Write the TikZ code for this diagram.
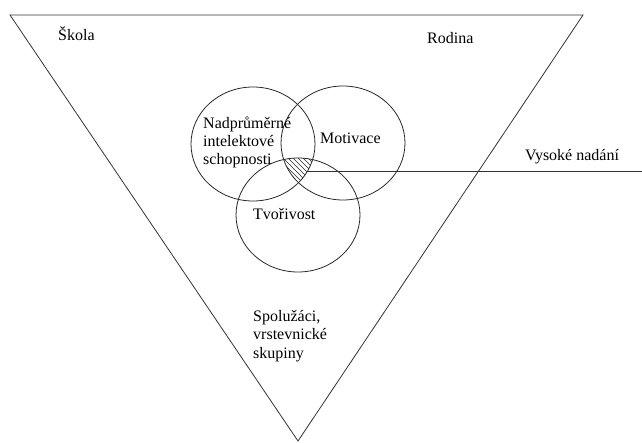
\documentclass[tikz,border=0pt]{standalone}
\usepackage{fontspec}
\setmainfont{Liberation Serif}
\begin{document}
\begin{tikzpicture}[x=1pt,y=-1pt,
  edge/.style={draw=black!80,line width=0.8pt},
  ring/.style={draw=black!85,line width=0.8pt},
  lbl/.style={inner sep=0pt,anchor=base west,align=left,font=\fontsize{16}{18.2}\selectfont}]
\useasboundingbox (0,0) rectangle (642,442);
% triangle
\coordinate (tl) at (10,15);
\coordinate (tr) at (583,15);
\coordinate (ap) at (298,441);
\draw[edge,line join=miter] (tl) -- (tr) -- (ap) -- cycle;
% circles
\coordinate (c1) at (253,144);
\coordinate (c2) at (343,143);
\coordinate (c3) at (298,215);
% hatched triple intersection
\begin{scope}
  \clip (c1) ellipse [x radius=62,y radius=57];
  \clip (c2) ellipse [x radius=62,y radius=57];
  \clip (c3) ellipse [x radius=62,y radius=57];
  \foreach \k in {-120,-115,...,120}
    \draw[black!85,line width=0.6pt] (250+\k,140) -- ++(80,80);
\end{scope}
\draw[ring] (c1) ellipse [x radius=62,y radius=57];
\draw[ring] (c2) ellipse [x radius=62,y radius=57];
\draw[ring] (c3) ellipse [x radius=62,y radius=57];
% pointer line
\coordinate (hs) at (308,171);
\coordinate (he) at (642,171);
\draw[edge] (hs) -- (he);
% labels
\node[lbl] (skola) at (58,40) {Škola};
\node[lbl] (rodina) at (427,43) {Rodina};
\node[lbl] (nad) at (203,164.5) {Nadprůměrné\\intelektové\\schopnosti};
\node[lbl] (mot) at (320,143) {Motivace};
\node[lbl] (tvo) at (253,219) {Tvořivost};
\node[lbl] (vys) at (525,160) {Vysoké nadání};
\node[lbl] (spo) at (253,358) {Spolužáci,\\vrstevnické\\skupiny};
\end{tikzpicture}
\end{document}
